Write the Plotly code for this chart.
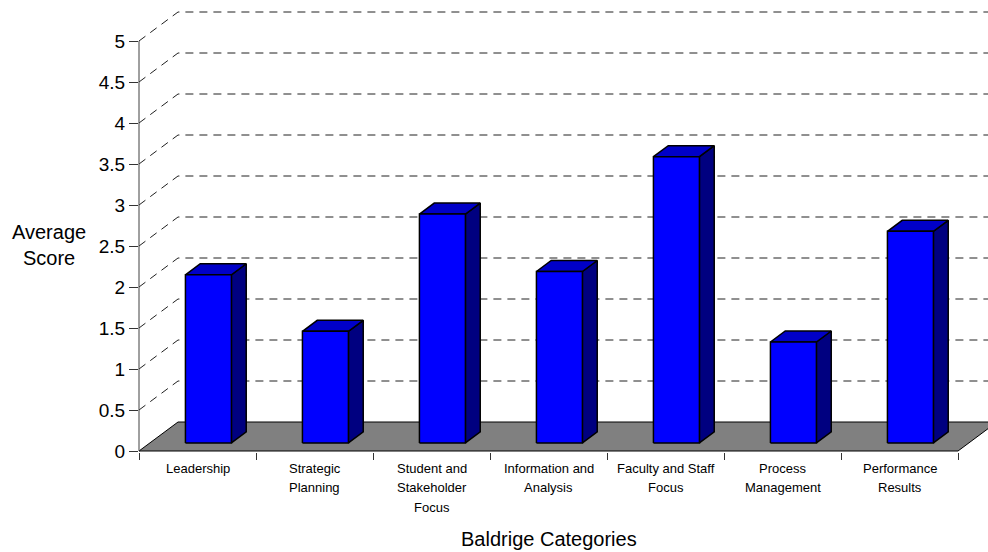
import plotly.graph_objects as go

# Baldrige self-assessment results
category_labels = [
    "Leadership",
    "Strategic<br>Planning",
    "Student and<br>Stakeholder<br>Focus",
    "Information and<br>Analysis",
    "Faculty and Staff<br>Focus",
    "Process<br>Management",
    "Performance<br>Results",
]
scores = [2.05, 1.36, 2.79, 2.09, 3.49, 1.23, 2.58]
score_ticks = [0, 0.5, 1, 1.5, 2, 2.5, 3, 3.5, 4, 4.5, 5]

# pseudo-3D geometry (oblique projection), in axis units
W, H = 988, 552
ML, MB = 139, 101
PX_CAT = 117.0          # pixels per category
PX_VAL = 82.0           # pixels per score unit
DX = 39 / PX_CAT        # depth offset along x
DY = 29 / PX_VAL        # depth offset along y
F0, F1 = 0.28, 0.66     # bar front/back planes as fraction of depth
BAR_W = 0.393

x_max = (W - ML) / PX_CAT
y_min = -1 / PX_VAL                      # 1px below the floor edge
y_max = y_min + (H - MB + 1) / PX_VAL    # value at the top edge

FONT = "Liberation Sans, Arial, sans-serif"
n = len(scores)

fig = go.Figure()


def poly(xs, ys, fill, lw=1.2, color="black"):
    fig.add_trace(go.Scatter(
        x=xs + [xs[0]], y=ys + [ys[0]], mode="lines", fill="toself",
        fillcolor=fill, line=dict(color=color, width=lw),
        hoverinfo="skip", showlegend=False))


# floor
poly([0, n, n + DX, DX], [0, 0, DY, DY], "#808080", lw=1)

# side wall + back wall grid lines
gx, gy = [], []
for v in score_ticks[1:]:
    gx += [0, DX, x_max + 1, None]
    gy += [v, v + DY, v + DY, None]
fig.add_trace(go.Scatter(
    x=gx, y=gy, mode="lines",
    line=dict(color="#202020", width=1, dash="8px,6px"),
    hoverinfo="skip", showlegend=False))

# bars: side, top, front faces
for i, v in enumerate(scores):
    xl = i + 0.5 - BAR_W / 2
    xr = i + 0.5 + BAR_W / 2
    x0, y0 = F0 * DX, F0 * DY
    x1, y1 = F1 * DX, F1 * DY
    poly([xr + x0, xr + x1, xr + x1, xr + x0],
         [y0, y1, v + y1, v + y0], "#000080", lw=1.5)
    poly([xl + x0, xr + x0, xr + x1, xl + x1],
         [v + y0, v + y0, v + y1, v + y1], "#0000C8", lw=1.5)
    poly([xl + x0, xr + x0, xr + x0, xl + x0],
         [y0, y0, v + y0, v + y0], "#0000FF", lw=1.5)

# category labels, one line at a time
annotations = []
for i, lab in enumerate(category_labels):
    for j, line in enumerate(lab.split("<br>")):
        annotations.append(dict(
            x=i + 0.5, xref="x", y=0, yref="paper", yanchor="middle",
            yshift=-16 - 19.5 * j, text=line, showarrow=False,
            font=dict(family=FONT, size=13, color="black")))

annotations.append(dict(
    x=(49 - ML) / (W - ML), xref="paper", y=(H - MB - 244) / (H - MB),
    yref="paper", text="Average<br>Score", showarrow=False,
    xanchor="center", yanchor="middle",
    font=dict(family=FONT, size=20, color="black")))
annotations.append(dict(
    x=n / 2, xref="x", y=0, yref="paper", yanchor="middle", yshift=-87,
    text="Baldrige Categories", showarrow=False,
    font=dict(family=FONT, size=20, color="black")))

fig.update_layout(
    width=W, height=H,
    margin=dict(l=ML, r=0, t=0, b=MB - 1),
    paper_bgcolor="white", plot_bgcolor="white",
    showlegend=False,
    xaxis=dict(range=[0, x_max], showgrid=False, zeroline=False,
               showline=False, tickmode="array",
               tickvals=list(range(n + 1)), ticktext=[""] * (n + 1),
               ticks="outside", ticklen=7, tickcolor="#333333",
               fixedrange=True),
    yaxis=dict(range=[y_min, y_max],
               showgrid=False, zeroline=False, showline=False,
               tickmode="array", tickvals=score_ticks,
               ticktext=[f"{t:g}" for t in score_ticks],
               ticks="outside", ticklen=9, tickcolor="#333333",
               tickfont=dict(family=FONT, size=19, color="black"),
               fixedrange=True),
    shapes=[dict(type="line", xref="paper", yref="y", x0=0, x1=0,
                 y0=0, y1=score_ticks[-1],
                 line=dict(color="#404040", width=1))],
    annotations=annotations,
)

fig.write_html("out.html")
